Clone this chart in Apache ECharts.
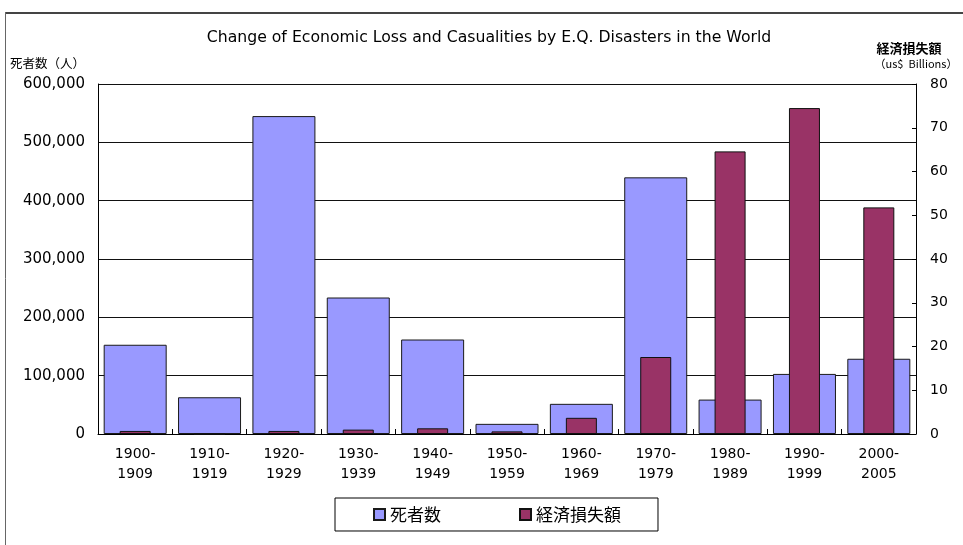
<!DOCTYPE html>
<html>
<head>
<meta charset="utf-8">
<script src="https://cdn.jsdelivr.net/npm/echarts@6/dist/echarts.min.js"></script>
<style>
  html, body { margin: 0; padding: 0; background: #fff; }
  #chart { width: 963px; height: 545px; }
</style>
</head>
<body>
<div id="chart"></div>
<script>
// Decades of record
const categories = ['1900-\n1909', '1910-\n1919', '1920-\n1929', '1930-\n1939', '1940-\n1949',
  '1950-\n1959', '1960-\n1969', '1970-\n1979', '1980-\n1989', '1990-\n1999', '2000-\n2005'];

// Deaths (persons), left axis
const deaths = [153000, 63000, 545000, 234000, 162000, 17400, 51700, 440000, 59000, 103000, 129000];

// Economic loss (US$ billions), right axis
const losses = [0.7, 0, 0.7, 1.0, 1.3, 0.6, 3.7, 17.6, 64.6, 74.5, 51.8];

const seriesNames = ['死者数', '経済損失額'];
const chartTitle = 'Change of Economic Loss and Casualities by E.Q. Disasters in the World';
const leftAxisName = '死者数（人）';
const rightAxisName = ['経済損失額', '（us$  Billions）'];

const LATIN = "'DejaVu Sans', 'Noto Sans CJK JP', sans-serif";
const CJK = "'Noto Sans CJK JP', 'DejaVu Sans', sans-serif";

function withCommas(v) {
  return String(v).replace(/\B(?=(\d{3})+(?!\d))/g, ',');
}

const chart = echarts.init(document.getElementById('chart'), null, { renderer: 'canvas' });

const option = {
  backgroundColor: '#ffffff',
  animation: false,
  grid: { left: 98, right: 47, top: 84, bottom: 111, containLabel: false },
  xAxis: [
    {
      type: 'category',
      data: categories,
      boundaryGap: true,
      axisLine: { show: true, lineStyle: { color: '#000', width: 1 } },
      axisTick: { show: true, inside: true, length: 5, lineStyle: { color: '#000' } },
      axisLabel: { color: '#000', fontFamily: LATIN, fontSize: 14, lineHeight: 20, margin: 10, interval: 0 },
      splitLine: { show: false }
    },
    {
      type: 'category',
      data: categories,
      show: false
    }
  ],
  yAxis: [
    {
      type: 'value',
      min: 0,
      max: 600000,
      interval: 100000,
      axisLine: { show: true, lineStyle: { color: '#000', width: 1 } },
      axisTick: { show: false },
      axisLabel: { color: '#000', fontFamily: LATIN, fontSize: 15, margin: 13, formatter: withCommas },
      splitLine: { show: true, lineStyle: { color: '#111', width: 1 } }
    },
    {
      type: 'value',
      min: 0,
      max: 80,
      interval: 10,
      position: 'right',
      axisLine: { show: true, lineStyle: { color: '#000', width: 1 } },
      axisTick: { show: true, inside: true, length: 4, lineStyle: { color: '#000' } },
      axisLabel: { color: '#000', fontFamily: LATIN, fontSize: 14, margin: 14 },
      splitLine: { show: false }
    }
  ],
  legend: {
    left: 335,
    top: 498,
    orient: 'horizontal',
    data: seriesNames,
    itemWidth: 11,
    itemHeight: 11,
    itemGap: 78,
    padding: [8, 37, 8, 38],
    borderColor: '#000',
    borderWidth: 1,
    icon: 'rect',
    textStyle: { color: '#000', fontFamily: CJK, fontSize: 17, padding: [0, 0, 0, 0] }
  },
  series: [
    {
      name: seriesNames[0],
      type: 'bar',
      xAxisIndex: 0,
      yAxisIndex: 0,
      data: deaths,
      barWidth: 63,
      itemStyle: { color: '#9999FF', borderColor: '#1a1a1a', borderWidth: 1 }
    },
    {
      name: seriesNames[1],
      type: 'bar',
      xAxisIndex: 1,
      yAxisIndex: 1,
      data: losses,
      barWidth: 31,
      itemStyle: { color: '#993366', borderColor: '#111', borderWidth: 1 }
    }
  ],
  graphic: [
    // chart frame
    { type: 'line', shape: { x1: 5, y1: 13, x2: 963, y2: 13 }, style: { stroke: '#444', lineWidth: 2 }, silent: true },
    { type: 'line', shape: { x1: 5.5, y1: 12, x2: 5.5, y2: 545 }, style: { stroke: '#666', lineWidth: 1 }, silent: true },
    {
      type: 'text', x: 489, y: 38,
      style: { text: chartTitle, fill: '#000', font: '15.7px ' + LATIN, textAlign: 'center', textVerticalAlign: 'middle' }
    },
    {
      type: 'text', x: 10, y: 63,
      style: { text: leftAxisName, fill: '#000', font: '12.5px ' + CJK, textAlign: 'left', textVerticalAlign: 'middle' }
    },
    {
      type: 'text', x: 909, y: 48,
      style: { text: rightAxisName[0], fill: '#000', font: 'bold 13px ' + CJK, textAlign: 'center', textVerticalAlign: 'middle' }
    },
    {
      type: 'text', x: 916, y: 64,
      style: { text: rightAxisName[1], fill: '#000', font: '11px ' + CJK, textAlign: 'center', textVerticalAlign: 'middle' }
    }
  ]
};

chart.setOption(option);
</script>
</body>
</html>
